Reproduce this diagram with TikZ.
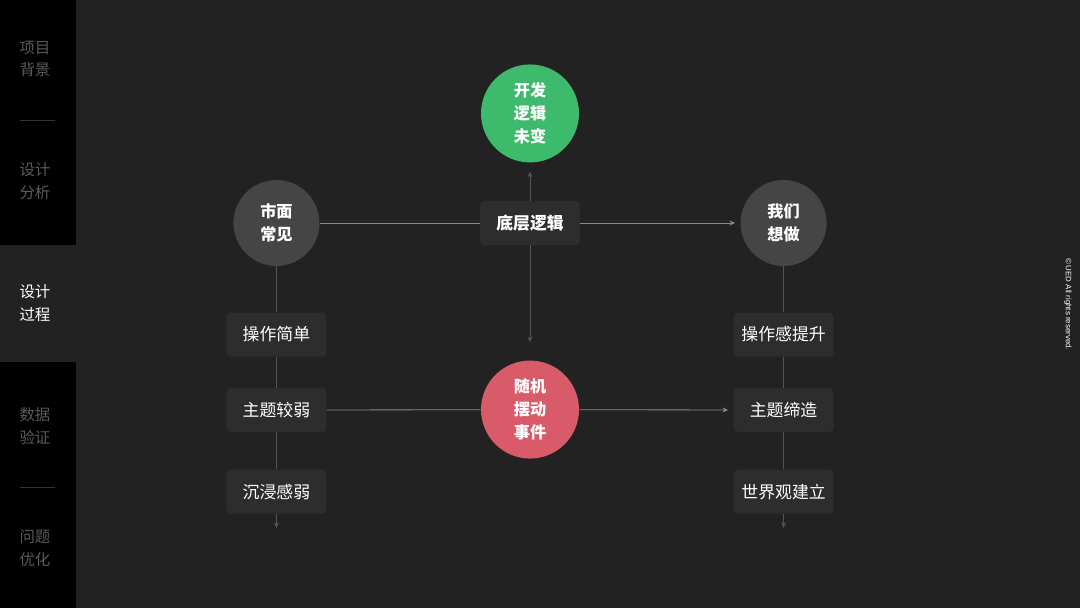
\documentclass[tikz,border=0pt]{standalone}
\usepackage{fontspec}
\setmainfont{Noto Sans CJK SC}
\setsansfont{Liberation Sans}
\usepackage{xcolor}
\usepackage{tikz}
\usetikzlibrary{arrows.meta,positioning}

\definecolor{pagebg}{HTML}{222222}
\definecolor{sidebg}{HTML}{000000}
\definecolor{circgray}{HTML}{454545}
\definecolor{boxgray}{HTML}{2D2D2D}
\definecolor{devgreen}{HTML}{3DBA6B}
\definecolor{randred}{HTML}{D95B6A}
\definecolor{linegray}{HTML}{8A8A8A}
\definecolor{dimline}{HTML}{555555}
\definecolor{sidetext}{HTML}{5A5A5A}
\definecolor{sepline}{HTML}{333333}

\begin{document}
\begin{tikzpicture}[
    topic/.style={circle, minimum size=2.15cm, inner sep=0pt, align=center, fill=circgray, text=white, font={\fontsize{11.5}{16.3}\selectfont\bfseries}},
    event/.style={topic, minimum size=2.45cm},
    item/.style={draw=none, rounded corners=3pt, minimum width=2.5cm, minimum height=1.1cm, align=center, fill=boxgray, text=white, font={\fontsize{12}{14}\selectfont}},
    menu/.style={align=center, text=sidetext, font={\fontsize{11}{16.3}\selectfont}},
    hline/.style={draw=linegray, line width=0.6pt},
    vline/.style={draw=dimline, line width=0.6pt},
    >={Stealth[length=4pt,width=3.5pt]}
]
    % Background and side bar
    \useasboundingbox (0,0) rectangle (27,15.2);
    \fill[pagebg] (0,0) rectangle (27,15.2);
    \fill[sidebg] (0,0) rectangle (1.9,15.2);
    \fill[pagebg] (0,6.15) rectangle (1.9,9.075);
    \draw[draw=sepline, line width=0.5pt] (0.5,12.2) -- (1.375,12.2);
    \draw[draw=sepline, line width=0.5pt] (0.5,3.025) -- (1.375,3.025);

    \node[menu] (side1) at (0.875,13.725) {项目\\背景};
    \node[menu] (side2) at (0.875,10.675) {设计\\分析};
    \node[menu, text=white] (side3) at (0.875,7.625) {设计\\过程};
    \node[menu] (side4) at (0.875,4.55) {数据\\验证};
    \node[menu] (side5) at (0.875,1.5) {问题\\优化};

    % Centre
    \node[item, font={\fontsize{12}{14}\selectfont\bfseries}] (base) at (13.25,9.625) {底层逻辑};
    \node[event, fill=devgreen, above=0.95cm of base] (dev) {开发\\逻辑\\未变};
    \node[event, fill=randred, below=2.875cm of base] (rand) {随机\\摆动\\事件};
    \node[topic, left=4.0cm of base] (market) {市面\\常见};
    \node[topic, right=4.0cm of base] (want) {我们\\想做};

    % Left column
    \node[item, below=1.15cm of market] (easy) {操作简单};
    \node[item, below=0.775cm of easy] (weaktheme) {主题较弱};
    \node[item, below=0.925cm of weaktheme] (weakimm) {沉浸感弱};
    \coordinate[below=0.35cm of weakimm] (leftend);

    % Right column
    \node[item, below=1.15cm of want] (feel) {操作感提升};
    \node[item, below=0.775cm of feel] (theme) {主题缔造};
    \node[item, below=0.925cm of theme] (world) {世界观建立};
    \coordinate[below=0.35cm of world] (rightend);

    % Horizontal connectors
    \draw[hline] (market) -- (base);
    \draw[hline, ->, shorten >=0.13cm] (base) -- (want);
    \draw[hline] (weaktheme) -- (rand);
    \draw[hline, ->, shorten >=0.13cm] (rand) -- (theme);

    % Vertical connectors
    \draw[vline, ->, shorten >=0.22cm] (base) -- (dev);
    \draw[vline, ->, shorten >=0.45cm] (base) -- (rand);
    \draw[vline] (market) -- (easy);
    \draw[vline] (easy) -- (weaktheme);
    \draw[vline] (weaktheme) -- (weakimm);
    \draw[vline, ->] (weakimm) -- (leftend);
    \draw[vline] (want) -- (feel);
    \draw[vline] (feel) -- (theme);
    \draw[vline] (theme) -- (world);
    \draw[vline, ->] (world) -- (rightend);

    % Copyright
    \node[rotate=-90, text=white!75, font={\sffamily\fontsize{5.6}{6.5}\selectfont}] (copy) at (26.7,7.6) {© UED All rights reserved.};
\end{tikzpicture}
\end{document}
